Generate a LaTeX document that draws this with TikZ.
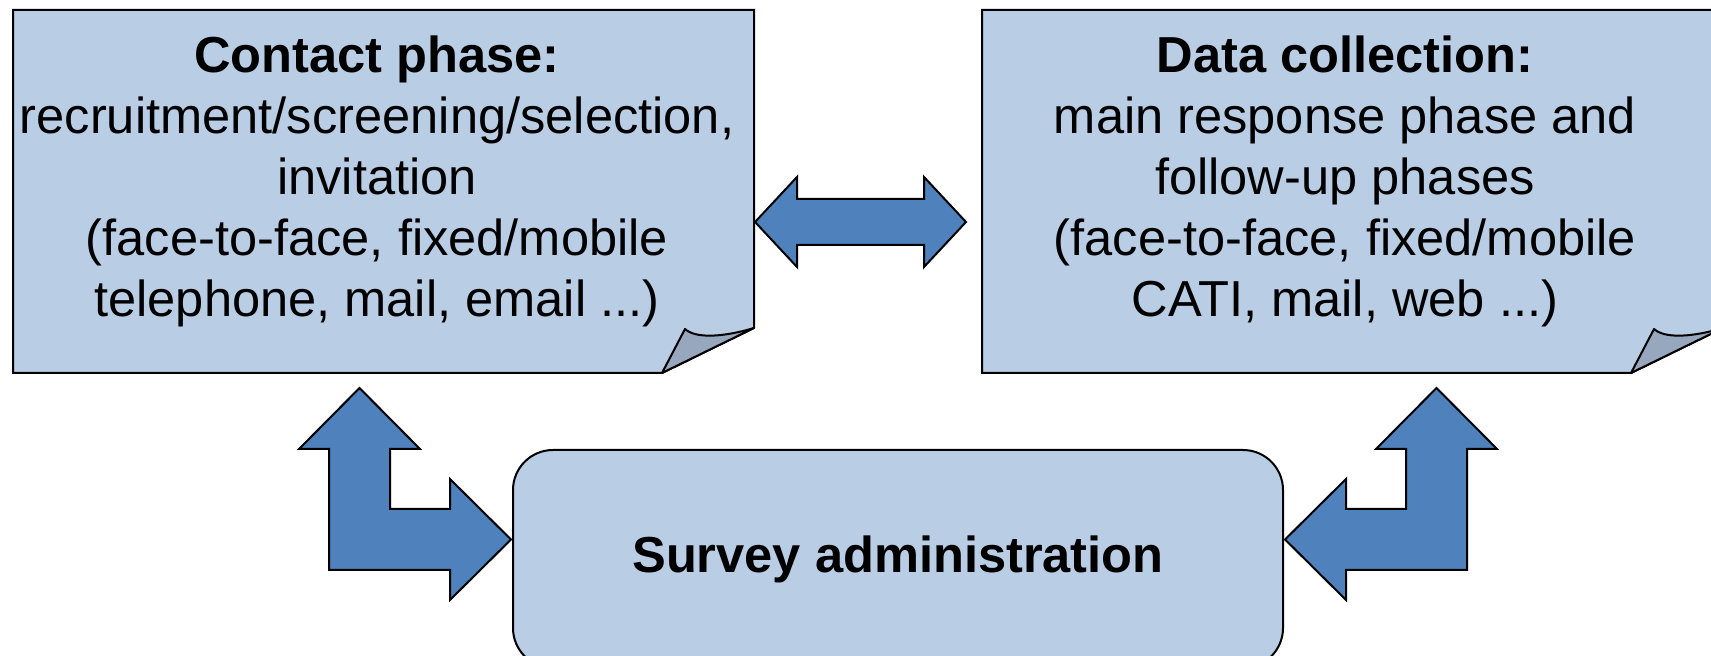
\documentclass[tikz,border=0pt]{standalone}
\usepackage{fontspec}
\setmainfont{Liberation Sans}
\usepackage{tikz}
\usetikzlibrary{calc}
\definecolor{notefill}{RGB}{185,205,229}
\definecolor{foldfill}{RGB}{151,167,189}
\definecolor{arrowfill}{RGB}{79,129,189}
\tikzstyle{note} = [draw=black,fill=notefill,line width=1pt,line join=miter]
\tikzstyle{fold} = [draw=black,fill=foldfill,line width=1pt,line join=round]
\tikzstyle{blockarrow} = [draw=black,fill=arrowfill,line width=1pt,line join=miter]
\tikzstyle{notetext} = [align=center,inner sep=0pt,font=\fontsize{25.3}{30.5}\selectfont]
\tikzstyle{adminbox} = [draw=black,fill=notefill,line width=1pt,rounded corners=20pt,
    minimum width=385pt,minimum height=109pt,font=\bfseries\fontsize{25.3}{30.5}\selectfont]
% sheet with a dog-ear: left, top, right, bottom
\newcommand{\notesheet}[4]{%
    \draw[note] (#1,#2) -- (#3,#2) -- (#3,#4-45) -- (#3-92,#4) -- (#1,#4) -- cycle;
    \draw[fold] (#3-92,#4) -- (#3-69,#4-44)
        .. controls (#3-58,#4-34) and (#3-30,#4-36) .. (#3,#4-45) -- cycle;
}
% bent arrow, side tip at #1, mirrored with #2=-1
\newcommand{\lblock}[2]{%
    \draw[blockarrow,xscale=#2] (#1) -- ++(-61,-60.5) -- ++(0,30) -- ++(-60,0) -- ++(0,-60)
        -- ++(30,0) -- ++(-60.5,-61) -- ++(-60.5,61) -- ++(30,0) -- ++(0,121)
        -- ++(121,0) -- ++(0,30) -- cycle;
}

\begin{document}
\begin{tikzpicture}[x=0.5pt,y=-0.5pt]
    \useasboundingbox (0,0) rectangle (1711,656);
    \clip (0,0) rectangle (1711,656);
    % the two sheets
    \notesheet{13}{10}{754}{373}
    \notesheet{982}{10}{1723}{373}
    \node[notetext] (contact) at (377,181) {\textbf{Contact phase:}\\
        recruitment/screening/selection,\\invitation\\
        (face-to-face, fixed/mobile\\telephone, mail, email ...)};
    \node[notetext] (datacoll) at (1345,181) {\textbf{Data collection:}\\
        main response phase and\\follow-up phases\\
        (face-to-face, fixed/mobile\\CATI, mail, web ...)};
    % administration box
    \node[adminbox] (admin) at (898,559) {Survey administration};
    % arrows
    \coordinate (contactE) at (755,222);
    \draw[blockarrow] (contactE) -- ++(42,-45) -- ++(0,22) -- ++(127,0) -- ++(0,-22)
        -- ++(42,45) -- ++(-42,45) -- ++(0,-22) -- ++(-127,0) -- ++(0,22) -- cycle;
    \coordinate (tipL) at ($(admin.west)+(-1,-19.5)$);
    \coordinate (tipR) at ($(admin.east)+(1,-19.5)$);
    \lblock{tipL}{1}
    \lblock{tipR}{-1}
\end{tikzpicture}
\end{document}
